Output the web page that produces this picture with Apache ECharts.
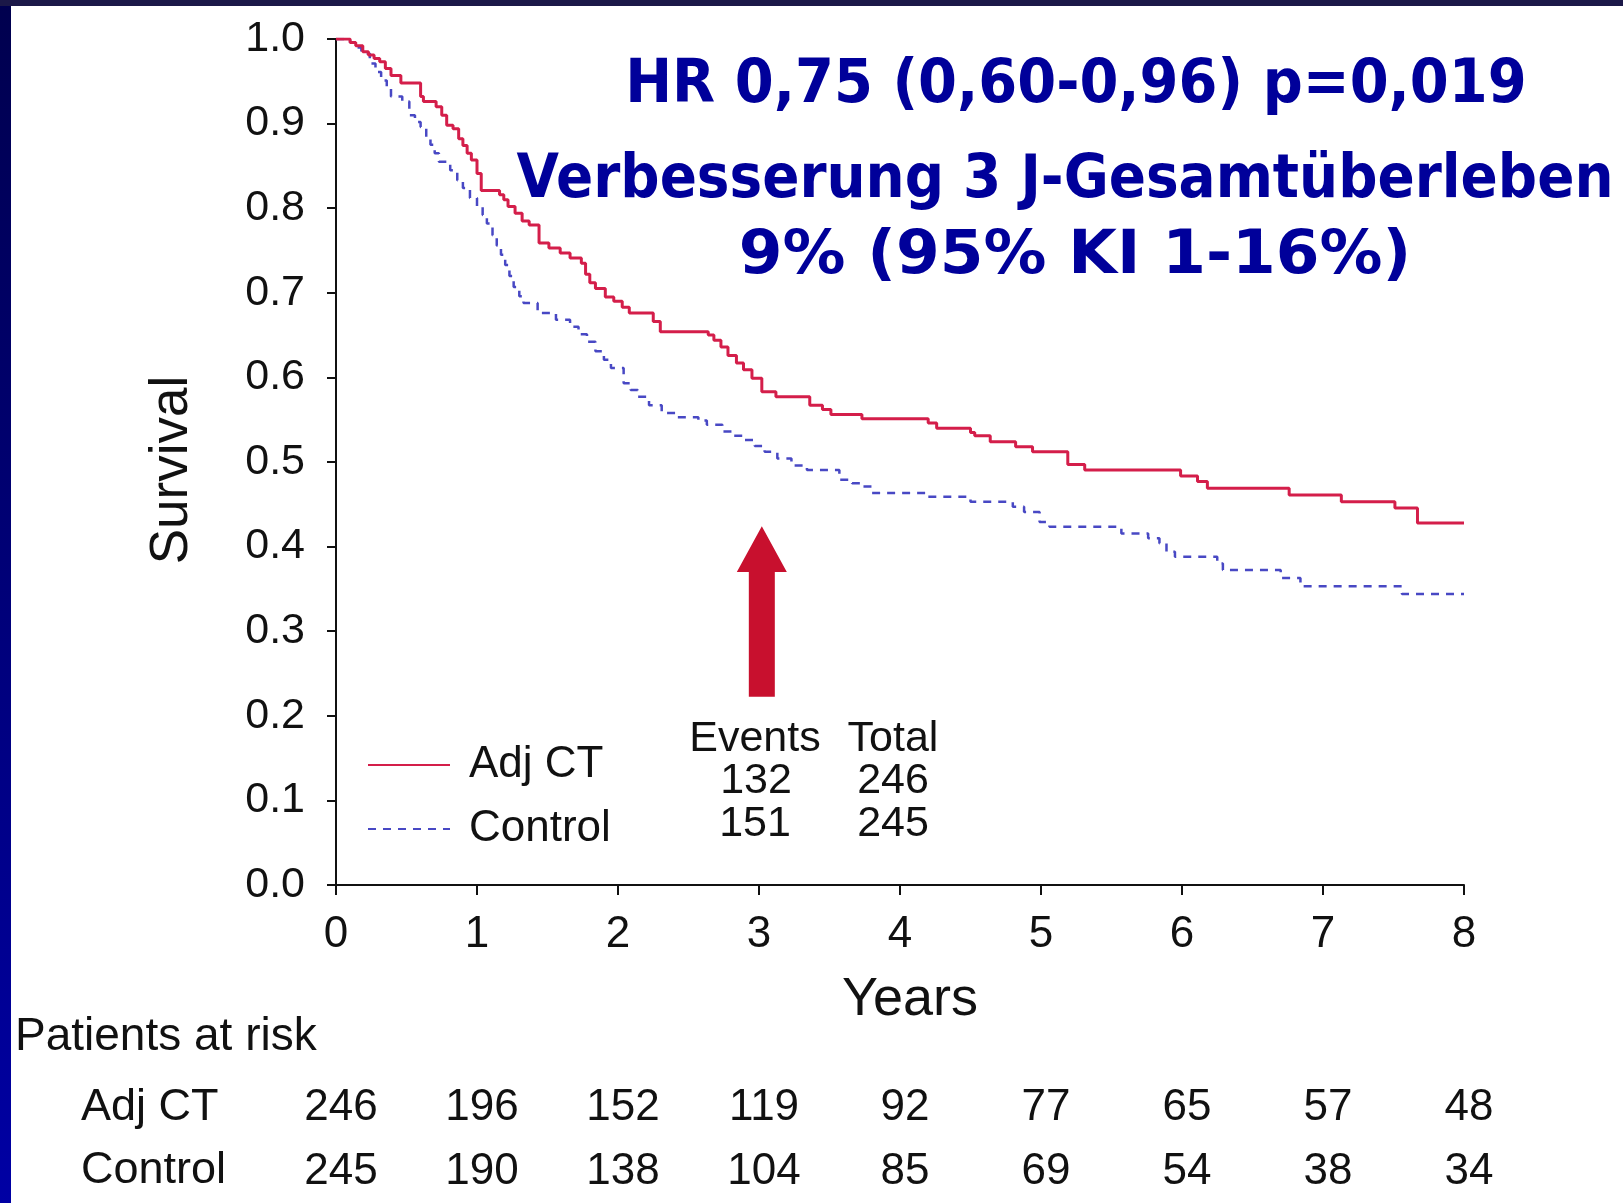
<!DOCTYPE html>
<html>
<head>
<meta charset="utf-8">
<title>Survival</title>
<script src="https://cdn.jsdelivr.net/npm/echarts@6/dist/echarts.min.js"></script>
<style>
  html, body { margin: 0; padding: 0; background: #fff; }
  #chart { width: 1623px; height: 1203px; }
</style>
</head>
<body>
<div id="chart"></div>
<script>
  // Kaplan-Meier steps: [years, survival]
  const adjCt = [
    [0, 1.0], [0.10, 0.996], [0.14, 0.992], [0.19, 0.985], [0.23, 0.981], [0.27, 0.977],
    [0.31, 0.973], [0.35, 0.965], [0.39, 0.957], [0.46, 0.948], [0.60, 0.932], [0.62, 0.926],
    [0.71, 0.920], [0.75, 0.910], [0.785, 0.898], [0.83, 0.894], [0.87, 0.882], [0.90, 0.874],
    [0.93, 0.865], [0.96, 0.857], [1.00, 0.841], [1.03, 0.821], [1.16, 0.816], [1.19, 0.810],
    [1.22, 0.802], [1.27, 0.794], [1.32, 0.785], [1.37, 0.780], [1.44, 0.759], [1.51, 0.753],
    [1.59, 0.747], [1.66, 0.741], [1.74, 0.735], [1.77, 0.722], [1.80, 0.712], [1.84, 0.705],
    [1.91, 0.695], [1.97, 0.690], [2.03, 0.683], [2.08, 0.676], [2.25, 0.666], [2.30, 0.654],
    [2.64, 0.650], [2.68, 0.644], [2.73, 0.636], [2.78, 0.626], [2.84, 0.617], [2.89, 0.609],
    [2.95, 0.599], [3.02, 0.583], [3.12, 0.577], [3.36, 0.567], [3.45, 0.562], [3.51, 0.556],
    [3.73, 0.551], [4.20, 0.546], [4.26, 0.540], [4.50, 0.535], [4.53, 0.531], [4.64, 0.524],
    [4.82, 0.518], [4.94, 0.512], [5.19, 0.497], [5.31, 0.4905], [5.99, 0.4835], [6.11, 0.477],
    [6.18, 0.469], [6.76, 0.461], [7.13, 0.453], [7.51, 0.4455], [7.67, 0.428], [8.0, 0.428]
  ]
  const control = [
    [0, 1.0], [0.10, 0.996], [0.14, 0.990], [0.18, 0.983], [0.24, 0.971], [0.28, 0.961],
    [0.32, 0.951], [0.36, 0.941], [0.39, 0.932], [0.47, 0.926], [0.52, 0.910], [0.56, 0.902],
    [0.60, 0.896], [0.64, 0.884], [0.67, 0.875], [0.70, 0.865], [0.73, 0.855], [0.81, 0.845],
    [0.86, 0.833], [0.90, 0.824], [0.95, 0.812], [1.00, 0.802], [1.04, 0.792], [1.07, 0.782],
    [1.11, 0.768], [1.14, 0.756], [1.17, 0.745], [1.20, 0.733], [1.23, 0.720], [1.26, 0.707],
    [1.30, 0.696], [1.33, 0.688], [1.43, 0.676], [1.56, 0.668], [1.66, 0.660], [1.72, 0.651],
    [1.78, 0.642], [1.84, 0.631], [1.90, 0.621], [1.95, 0.611], [2.04, 0.593], [2.09, 0.585],
    [2.14, 0.577], [2.22, 0.567], [2.31, 0.558], [2.41, 0.553], [2.57, 0.549], [2.63, 0.544],
    [2.74, 0.536], [2.82, 0.531], [2.90, 0.526], [2.97, 0.519], [3.04, 0.512], [3.13, 0.504],
    [3.23, 0.496], [3.34, 0.4905], [3.57, 0.479], [3.66, 0.475], [3.74, 0.471], [3.80, 0.4635],
    [4.18, 0.459], [4.50, 0.453], [4.80, 0.447], [4.88, 0.441], [4.99, 0.429], [5.06, 0.4235],
    [5.57, 0.4155], [5.76, 0.410], [5.84, 0.404], [5.89, 0.394], [5.95, 0.388], [6.25, 0.380],
    [6.29, 0.3723], [6.70, 0.363], [6.84, 0.353], [7.56, 0.344], [8.0, 0.344]
  ]

  const years = [0, 1, 2, 3, 4, 5, 6, 7, 8]
  const groups = ['Adj CT', 'Control']
  const events = [132, 151]
  const totals = [246, 245]
  const atRiskAdjCt = [246, 196, 152, 119, 92, 77, 65, 57, 48]
  const atRiskControl = [245, 190, 138, 104, 85, 69, 54, 38, 34]
  const headline = ['HR 0,75 (0,60-0,96) p=0,019', 'Verbesserung 3 J-Gesamtüberleben', '9% (95% KI 1-16%)']

  // arrow at year 3: tip, head base, tail (survival units)
  const arrowYear = 3.02
  const arrowLevels = [0.424, 0.370, 0.2225]

  const font = '"Liberation Sans", Arial, Helvetica, sans-serif'
  const ink = '#111'
  const red = '#d41e4a'
  const blue = '#4848c4'

  function label(text, x, y, size, align) {
    return {
      type: 'text', x: x, y: y, silent: true,
      style: {text: text, fontSize: size, fontFamily: font, fill: ink, align: align || 'center', verticalAlign: 'middle'}
    }
  }
  function headlineText(text, x, y, squeeze) {
    return {
      type: 'text', x: x, y: y, scaleX: squeeze, silent: true,
      style: {text: text, fontSize: 61, fontWeight: 'bold', fontFamily: '"DejaVu Sans", Verdana, sans-serif',
        fill: '#00009a', align: 'center', verticalAlign: 'middle'}
    }
  }

  function riskAxis(values, offset) {
    return {
      type: 'value', gridIndex: 0, min: 0, max: 8, interval: 1, position: 'bottom', offset: offset,
      axisLine: {show: false}, axisTick: {show: false}, splitLine: {show: false},
      axisLabel: {
        fontSize: 44, color: ink, fontFamily: font, margin: 0, padding: [0, 0, 0, 10],
        formatter: v => String(values[years.indexOf(v)])
      }
    }
  }

  let chart = echarts.init(document.getElementById('chart'), null, {renderer: 'canvas'})
  chart.setOption({
    animation: false,
    backgroundColor: '#fff',
    textStyle: {fontFamily: font},
    grid: {left: 336, top: 39, width: 1128, height: 846, containLabel: false},
    legend: {
      orient: 'vertical', left: 362, top: 738, itemWidth: 82, itemHeight: 16, itemGap: 20,
      selectedMode: false, data: groups,
      itemStyle: {opacity: 0},
      textStyle: {fontSize: 44, color: ink, fontFamily: font, padding: [0, 0, 0, 14]}
    },
    xAxis: [
      {
        type: 'value', min: 0, max: 8, interval: 1,
        name: 'Years', nameLocation: 'middle', nameGap: 88,
        nameTextStyle: {fontSize: 54, color: ink, fontFamily: font, padding: [0, 0, 0, 20]},
        axisLine: {show: true, onZero: false, lineStyle: {color: ink, width: 2}},
        axisTick: {show: true, length: 10, lineStyle: {color: ink, width: 2}},
        splitLine: {show: false},
        axisLabel: {fontSize: 44, color: ink, fontFamily: font, margin: 28}
      },
      riskAxis(atRiskAdjCt, 201),
      riskAxis(atRiskControl, 265)
    ],
    yAxis: {
      type: 'value', min: 0, max: 1, interval: 0.1,
      name: 'Survival', nameLocation: 'middle', nameGap: 137,
      nameTextStyle: {fontSize: 53, color: ink, fontFamily: font, padding: [0, 16, 0, 0]},
      axisLine: {show: true, lineStyle: {color: ink, width: 2}},
      axisTick: {show: true, length: 9, lineStyle: {color: ink, width: 2}},
      splitLine: {show: false},
      axisLabel: {fontSize: 43, color: ink, fontFamily: font, margin: 31, formatter: v => v.toFixed(1)}
    },
    series: [
      {
        type: 'line', name: groups[0], data: adjCt, step: 'end', symbol: 'none', z: 3,
        lineStyle: {color: red, width: 3}, itemStyle: {color: red}
      },
      {
        type: 'line', name: groups[1], data: control, step: 'end', symbol: 'none', z: 2,
        lineStyle: {color: blue, width: 2.5, type: [8, 7]}, itemStyle: {color: blue}
      }
    ],
    graphic: [
      {
        type: 'rect', id: 'edge-left', silent: true,
        shape: {x: 0, y: 0, width: 11, height: 1203},
        style: {fill: new echarts.graphic.LinearGradient(0, 0, 0, 1, [
          {offset: 0, color: '#00004e'}, {offset: 1, color: '#0000a4'}
        ])}
      },
      {type: 'rect', id: 'edge-top', silent: true, shape: {x: 0, y: 0, width: 1623, height: 6}, style: {fill: '#1b1848'}},
      headlineText(headline[0], 1076, 86, 0.918),
      headlineText(headline[1], 1065, 181, 0.9),
      headlineText(headline[2], 1075, 257, 1.03),
      label('Events', 755, 739, 43),
      label('Total', 893, 739, 43),
      label(String(events[0]), 756, 781, 43),
      label(String(totals[0]), 893, 781, 43),
      label(String(events[1]), 755, 824, 43),
      label(String(totals[1]), 893, 824, 43),
      label('Patients at risk', 15, 1037, 46, 'left'),
      label(groups[0], 81, 1108, 45, 'left'),
      label(groups[1], 81, 1171, 45, 'left')
    ]
  })

  // the arrow is placed through the chart's own scales
  const [ax, tipY] = chart.convertToPixel({gridIndex: 0}, [arrowYear, arrowLevels[0]])
  const baseY = chart.convertToPixel({gridIndex: 0}, [arrowYear, arrowLevels[1]])[1]
  const tailY = chart.convertToPixel({gridIndex: 0}, [arrowYear, arrowLevels[2]])[1]
  chart.setOption({
    graphic: [{
      type: 'polygon', id: 'arrow', silent: true,
      shape: {points: [
        [ax, tipY], [ax + 25, baseY], [ax + 13, baseY], [ax + 13, tailY],
        [ax - 13, tailY], [ax - 13, baseY], [ax - 25, baseY]
      ]},
      style: {fill: '#c8102e'}
    }]
  })
</script>
</body>
</html>
